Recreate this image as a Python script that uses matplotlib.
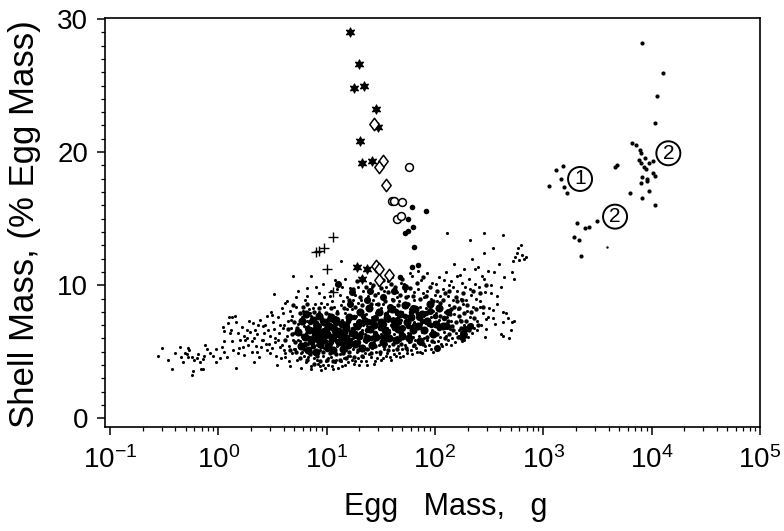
import numpy as np
import matplotlib
matplotlib.use("Agg")
import matplotlib.pyplot as plt
from matplotlib.path import Path
from matplotlib.ticker import FixedLocator, FixedFormatter, NullFormatter

# all egg masses are given as log10(g); shell mass in % of egg mass

# big asterisks (upper arm of the distribution)
ASTER = [(1.213, 29.0), (1.298, 26.6), (1.252, 24.8), (1.347, 25.0), (1.453, 23.2),
         (1.474, 21.9), (1.308, 20.8), (1.329, 19.2), (1.421, 19.3), (1.283, 11.4),
         (1.374, 11.25), (1.323, 10.45)]
DIAMOND = [(1.437, 22.1), (1.523, 19.35), (1.483, 18.9), (1.548, 17.5), (1.455, 11.45),
           (1.480, 11.2), (1.486, 10.4), (1.578, 10.8)]
OPEN_CIRC = [(1.762, 18.9), (1.600, 16.3), (1.622, 16.3), (1.695, 16.25), (1.653, 14.97),
             (1.690, 15.2)]
FILL_CIRC = [(1.786, 15.85), (1.913, 15.55), (1.752, 15.0), (1.799, 14.35), (1.753, 14.1),
             (1.723, 13.9), (1.806, 12.85), (1.846, 11.5), (1.784, 11.4), (1.677, 10.65)]
PLUS = [(0.899, 12.5), (0.925, 12.6), (0.975, 12.8), (1.062, 13.6), (1.006, 11.2),
        (1.055, 9.5)]

# large eggs (right hand side)
BIG_EGG = [(3.114, 18.66), (3.178, 18.96), (3.056, 17.48), (3.163, 17.98), (3.187, 17.36),
           (3.215, 16.95), (3.308, 14.65), (3.385, 14.27), (3.424, 14.4), (3.492, 14.82),
           (3.285, 13.62), (3.331, 13.4), (3.344, 12.22), (3.665, 18.9), (3.677, 19.05),
           (3.911, 28.17), (4.108, 25.97), (4.052, 24.24), (4.028, 22.19), (3.815, 20.66),
           (3.855, 20.51), (3.893, 20.16), (3.899, 19.91), (3.886, 19.41), (3.901, 19.16),
           (3.939, 19.53), (3.978, 19.16), (4.015, 19.31), (3.929, 18.9), (3.945, 18.71),
           (3.907, 18.15), (3.953, 17.98), (4.008, 18.41), (4.029, 18.23), (3.901, 17.7),
           (3.953, 17.85), (3.800, 16.95), (3.907, 16.55), (3.978, 17.05), (4.034, 16.0)]
BIG_EGG_SMALL = [(3.584, 12.87)]

GROUP_LABELS = ["1", "2", "2"]
GROUP_POS = [(3.339, 17.98), (3.662, 15.15), (4.154, 19.91)]

CLOUD_TAIL = [(-0.554, 4.68), (-0.517, 5.30), (-0.462, 4.38), (-0.425, 3.73), (-0.354, 5.33),
              (-0.345, 4.58), (-0.323, 4.25), (-0.292, 4.81), (-0.277, 4.58), (-0.268, 5.13),
              (-0.246, 4.63), (-0.237, 3.58), (-0.226, 4.38), (-0.185, 4.83), (-0.169, 4.25),
              (-0.160, 3.68), (-0.139, 3.68), (-0.139, 4.43), (-0.133, 4.68), (-0.108, 5.18),
              (-0.047, 4.68), (-0.022, 5.18), (0.015, 4.51), (0.031, 5.33), (0.052, 5.0),
              (0.076, 4.58), (0.100, 7.63), (0.122, 7.63), (0.153, 7.71), (0.046, 6.88),
              (0.052, 6.56), (0.086, 7.18), (0.107, 6.38), (0.122, 5.83), (0.160, 7.26),
              (0.163, 3.80), (0.184, 6.38), (0.138, 5.13), (0.193, 5.26), (0.215, 6.88),
              (0.230, 5.38), (0.239, 4.76), (0.261, 6.01), (0.261, 6.63), (0.291, 6.51),
              (0.307, 5.0), (0.323, 7.14), (0.332, 4.25), (0.353, 5.0), (0.369, 7.01),
              (0.384, 7.39), (0.393, 5.38), (0.415, 5.88), (0.430, 7.01), (0.445, 5.13),
              (0.477, 4.88), (0.492, 7.76), (0.507, 7.26), (0.516, 9.34), (0.523, 6.01),
              (0.538, 4.0), (0.553, 7.63), (0.569, 5.38), (0.584, 8.26), (0.615, 8.64),
              (0.599, 6.76), (0.615, 4.88), (0.27, 5.5), (0.31, 5.8), (0.35, 5.4),
              (0.40, 5.9), (0.44, 5.6), (0.48, 6.2), (0.52, 5.7), (0.56, 6.4),
              (0.58, 4.5), (0.46, 6.6), (0.36, 6.3), (0.20, 5.9), (-0.246, 3.25),
              (0.69, 10.7), (1.13, 11.8), (-0.31, 4.9), (-0.20, 4.5), (-0.08, 4.9),
              (0.24, 6.2), (0.33, 6.0), (0.42, 6.4), (0.50, 5.3), (0.55, 5.9),
              (0.05, 5.8), (0.12, 6.6), (0.18, 4.9), (0.25, 5.9), (0.28, 7.3), (0.34, 6.6),
              (0.38, 4.6), (0.41, 6.9), (0.45, 7.7), (0.47, 5.6), (0.51, 6.7), (0.53, 4.7),
              (0.57, 7.0), (0.59, 5.5), (0.60, 7.9), (0.49, 8.0), (-0.40, 4.9), (-0.28, 5.3),
              (-0.12, 5.5), (-0.02, 4.2)]
CLOUD_CORE = [
    (0.62, 4.6), (0.63, 6.2), (0.64, 7.3), (0.65, 5.4), (0.66, 8.1), (0.67, 6.8), (0.68, 4.9),
    (0.69, 5.9), (0.61, 7.0), (0.70, 6.4), (0.66, 3.9), (0.68, 7.7),
    (0.71, 5.2), (0.72, 6.6), (0.72, 8.4), (0.73, 4.4), (0.74, 7.1), (0.75, 5.8), (0.75, 6.3),
    (0.76, 3.8), (0.77, 5.0), (0.77, 7.6), (0.78, 6.0), (0.79, 6.9), (0.79, 4.7), (0.80, 8.9),
    (0.74, 9.6), (0.78, 5.5),
    (0.81, 6.4), (0.81, 4.2), (0.82, 7.3), (0.83, 5.6), (0.83, 6.9), (0.84, 4.9), (0.84, 8.2),
    (0.85, 6.1), (0.85, 5.3), (0.86, 7.7), (0.86, 3.9), (0.87, 6.6), (0.87, 5.0), (0.88, 7.0),
    (0.88, 4.5), (0.89, 5.9), (0.89, 8.6), (0.90, 6.3), (0.82, 9.2), (0.86, 10.7),
    (0.91, 5.5), (0.91, 7.2), (0.92, 4.1), (0.92, 6.5), (0.93, 6.0), (0.93, 8.0), (0.94, 5.1),
    (0.94, 6.9), (0.95, 3.6), (0.95, 6.2), (0.96, 5.7), (0.96, 7.5), (0.97, 4.7), (0.97, 6.7),
    (0.98, 5.3), (0.98, 8.4), (0.99, 6.1), (0.99, 4.3), (1.00, 7.0), (1.00, 5.8), (0.93, 9.4),
    (0.97, 10.1),
    (1.01, 6.4), (1.01, 4.0), (1.02, 5.2), (1.02, 7.8), (1.03, 6.0), (1.03, 6.9), (1.04, 4.6),
    (1.04, 5.6), (1.05, 7.3), (1.05, 8.8), (1.06, 6.3), (1.06, 3.7), (1.07, 5.0), (1.07, 6.7),
    (1.08, 5.9), (1.08, 7.6), (1.09, 4.4), (1.09, 6.5), (1.10, 5.4), (1.10, 8.1), (1.04, 9.6),
    (1.08, 10.4),
    (1.11, 6.1), (1.11, 7.1), (1.12, 4.8), (1.12, 5.7), (1.13, 6.6), (1.13, 8.5), (1.14, 3.9),
    (1.14, 7.4), (1.15, 5.3), (1.15, 6.2), (1.16, 6.9), (1.16, 4.5), (1.17, 5.9), (1.17, 7.9),
    (1.18, 5.1), (1.18, 6.4), (1.19, 7.2), (1.19, 9.1), (1.20, 4.2), (1.20, 6.0), (1.14, 9.9),
    (1.17, 10.5),
    (1.21, 5.6), (1.21, 7.5), (1.22, 6.3), (1.22, 4.7), (1.23, 8.2), (1.23, 6.8), (1.24, 5.2),
    (1.24, 6.0), (1.25, 7.1), (1.25, 4.1), (1.26, 5.8), (1.26, 9.3), (1.27, 6.5), (1.27, 7.7),
    (1.28, 5.0), (1.28, 6.2), (1.29, 8.7), (1.29, 4.5), (1.30, 6.9), (1.30, 5.5),
    (1.31, 6.0), (1.31, 7.3), (1.32, 4.3), (1.32, 8.0), (1.33, 5.4), (1.33, 6.6), (1.34, 7.0),
    (1.34, 9.6), (1.35, 4.9), (1.35, 6.3), (1.36, 5.7), (1.36, 7.8), (1.37, 6.9), (1.37, 4.0),
    (1.38, 5.2), (1.38, 8.4), (1.39, 6.1), (1.39, 7.4), (1.40, 5.6), (1.40, 10.2),
    (1.41, 6.7), (1.41, 4.6), (1.42, 7.6), (1.42, 5.3), (1.43, 6.2), (1.43, 8.9), (1.44, 5.8),
    (1.44, 7.1), (1.45, 4.3), (1.45, 6.5), (1.46, 7.9), (1.46, 5.0), (1.47, 6.0), (1.47, 9.4),
    (1.48, 6.9), (1.48, 5.5), (1.49, 7.4), (1.49, 4.8), (1.50, 8.3), (1.50, 6.3),
    (1.51, 5.9), (1.51, 7.0), (1.52, 4.5), (1.52, 8.6), (1.53, 6.4), (1.53, 5.2), (1.54, 7.7),
    (1.54, 6.1), (1.55, 9.9), (1.55, 5.6), (1.56, 6.8), (1.56, 4.9), (1.57, 7.3), (1.57, 8.1),
    (1.58, 5.4), (1.58, 6.6), (1.59, 7.0), (1.59, 4.4), (1.60, 6.0), (1.60, 9.0),
    (1.61, 7.5), (1.61, 5.1), (1.62, 6.3), (1.62, 8.4), (1.63, 5.7), (1.63, 6.9), (1.64, 4.7),
    (1.64, 7.8), (1.65, 6.1), (1.65, 9.5), (1.66, 5.4), (1.66, 7.1), (1.67, 6.6), (1.67, 8.8),
    (1.68, 4.6), (1.68, 5.9), (1.69, 7.4), (1.69, 6.2), (1.70, 8.0), (1.70, 5.2),
    (1.71, 6.8), (1.71, 10.1), (1.72, 5.5), (1.72, 7.3), (1.73, 6.0), (1.73, 8.6), (1.74, 4.9),
    (1.74, 7.0), (1.75, 6.4), (1.75, 9.2), (1.76, 5.7), (1.76, 7.7), (1.77, 6.3), (1.77, 8.2),
    (1.78, 5.1), (1.78, 6.9), (1.79, 7.5), (1.79, 10.7), (1.80, 6.1), (1.80, 5.4),
    (1.81, 7.2), (1.81, 8.9), (1.82, 5.9), (1.82, 6.6), (1.83, 8.0), (1.83, 5.0), (1.84, 7.5),
    (1.84, 9.7), (1.85, 6.2), (1.85, 6.9), (1.86, 5.6), (1.86, 8.4), (1.87, 7.1), (1.87, 10.4),
    (1.88, 6.5), (1.88, 4.9), (1.89, 7.8), (1.90, 6.0), (1.90, 9.1),
    (1.91, 7.4), (1.91, 5.4), (1.92, 8.3), (1.92, 6.7), (1.93, 9.6), (1.93, 5.9), (1.94, 7.0),
    (1.95, 6.3), (1.95, 8.7), (1.96, 5.2), (1.96, 7.6), (1.97, 10.2), (1.97, 6.6), (1.98, 8.1),
    (1.99, 5.7), (1.99, 7.2), (2.00, 9.3), (2.00, 6.4)]
# second pass over the cloud, in between the first one
CLOUD_EXTRA = [
    (0.605, 5.1), (0.635, 8.8), (0.655, 4.3), (0.675, 7.4), (0.695, 5.2), (0.715, 9.1),
    (0.735, 5.9), (0.755, 7.9), (0.765, 4.9), (0.785, 8.1), (0.805, 5.1), (0.815, 9.8),
    (0.825, 4.6), (0.845, 7.9), (0.855, 3.7), (0.875, 8.3), (0.895, 4.9), (0.905, 9.9),
    (0.915, 4.4), (0.935, 3.9), (0.945, 8.7), (0.965, 4.0), (0.975, 9.1), (0.985, 3.8),
    (1.005, 8.6), (1.015, 4.5), (1.035, 9.2), (1.045, 3.9), (1.065, 8.4), (1.075, 4.2),
    (1.095, 9.7), (1.105, 3.8), (1.125, 9.3), (1.135, 4.3), (1.155, 8.8), (1.165, 4.0),
    (1.185, 8.2), (1.195, 4.7), (1.215, 9.8), (1.235, 4.4), (1.245, 8.9), (1.265, 4.3),
    (1.285, 9.9), (1.295, 4.0), (1.315, 8.9), (1.335, 4.6), (1.345, 10.4), (1.365, 4.3),
    (1.385, 9.2), (1.395, 4.8), (1.415, 9.9), (1.435, 4.1), (1.455, 8.6), (1.465, 4.5),
    (1.485, 10.0), (1.505, 4.4), (1.525, 9.6), (1.545, 4.7), (1.565, 10.3), (1.585, 4.6),
    (1.605, 10.6), (1.625, 4.8), (1.645, 9.1), (1.665, 4.9), (1.685, 10.2), (1.705, 4.7),
    (1.725, 9.6), (1.745, 5.1), (1.765, 10.9), (1.785, 4.8), (1.805, 9.5), (1.825, 5.3),
    (1.845, 11.1), (1.865, 5.0), (1.885, 9.4), (1.905, 5.1), (1.925, 10.9), (1.945, 5.5),
    (1.965, 9.0), (1.985, 5.0), (2.005, 10.1), (2.025, 5.8), (2.045, 9.2), (2.065, 5.4),
    (2.085, 10.4), (2.105, 5.6), (2.125, 10.0), (2.145, 5.5), (2.165, 9.9), (2.185, 5.7),
    (2.205, 10.7), (2.225, 6.2), (2.245, 10.2), (2.265, 5.9), (2.285, 8.9), (2.305, 6.1),
    (2.325, 9.7), (2.345, 6.4), (2.365, 11.2), (2.385, 6.6), (2.405, 9.9), (2.425, 7.0),
    (2.455, 10.5), (2.485, 7.6), (2.515, 9.4), (2.545, 11.0), (2.575, 8.6), (2.605, 9.9),
    (2.625, 7.2)]
CLOUD_RIGHT = [
    (2.01, 7.9), (2.02, 5.3), (2.02, 8.8), (2.03, 6.9), (2.04, 10.6), (2.04, 7.4), (2.05, 6.1),
    (2.06, 8.4), (2.06, 5.6), (2.07, 9.7), (2.08, 7.0), (2.08, 6.5), (2.09, 8.0), (2.10, 11.0),
    (2.10, 6.2),
    (2.11, 7.6), (2.12, 9.2), (2.12, 5.9), (2.13, 8.5), (2.14, 6.7), (2.15, 10.3), (2.15, 7.3),
    (2.16, 6.0), (2.17, 8.9), (2.18, 11.6), (2.18, 7.8), (2.19, 6.4), (2.20, 9.6),
    (2.21, 8.2), (2.22, 6.6), (2.23, 10.8), (2.23, 7.4), (2.24, 9.0), (2.25, 5.8), (2.26, 8.6),
    (2.27, 11.2), (2.27, 7.0), (2.28, 9.9), (2.29, 6.3), (2.30, 8.1),
    (2.31, 10.5), (2.32, 7.6), (2.33, 9.3), (2.34, 12.0), (2.35, 8.4), (2.36, 6.8),
    (2.37, 10.1), (2.38, 9.0), (2.39, 7.3), (2.40, 11.4),
    (2.42, 8.8), (2.43, 10.7), (2.44, 7.9), (2.45, 12.4), (2.46, 9.5), (2.47, 6.7),
    (2.49, 11.1), (2.50, 8.3), (2.42, 8.34), (2.47, 7.44), (2.46, 6.08),
    (2.52, 10.0), (2.54, 12.8), (2.55, 7.1), (2.57, 9.2), (2.59, 11.6), (2.61, 6.3),
    (2.63, 8.0), (2.64, 10.6), (2.54, 8.14), (2.54, 7.56),
    (2.67, 7.5), (2.68, 6.0), (2.70, 6.6), (2.71, 11.0), (2.72, 11.8), (2.73, 10.5),
    (2.74, 12.1), (2.76, 12.4), (2.77, 12.8), (2.78, 11.9), (2.79, 13.0), (2.80, 12.3),
    (2.82, 12.0), (2.84, 12.1), (2.73, 7.3), (2.66, 7.9), (2.63, 6.18), (2.71, 7.26),
    (2.11, 13.9), (2.45, 13.9), (2.63, 13.8), (2.32, 13.4)]
# medium dots filling the upper, lower and right fringe of the dense part
CLOUD_MID = [
    (1.21, 8.9), (1.24, 9.7), (1.26, 8.4), (1.28, 10.3), (1.31, 9.1), (1.33, 8.5), (1.36, 9.9),
    (1.38, 9.0), (1.41, 8.6), (1.43, 10.0), (1.45, 9.3), (1.47, 8.6), (1.50, 9.8), (1.52, 10.4),
    (1.54, 8.8), (1.57, 9.5), (1.59, 10.1), (1.61, 8.9), (1.63, 9.9), (1.66, 8.5), (1.68, 9.3),
    (1.70, 10.5), (1.73, 9.1), (1.75, 8.6), (1.77, 9.8), (1.80, 9.2), (1.83, 10.2), (1.86, 9.0),
    (1.89, 10.6), (1.92, 9.2), (1.95, 9.9), (1.98, 8.8), (2.02, 9.6), (2.05, 8.7), (2.09, 9.4),
    (0.72, 5.0), (0.75, 4.5), (0.79, 5.2), (0.82, 4.4), (0.85, 4.8), (0.88, 4.1), (0.91, 4.7),
    (0.94, 4.3), (0.97, 5.0), (1.00, 4.4), (1.03, 4.9), (1.06, 4.3), (1.09, 4.8), (1.12, 4.4),
    (1.15, 4.9), (1.18, 4.5), (1.21, 5.0), (1.25, 4.6), (1.29, 5.1), (1.33, 4.7), (1.37, 5.2),
    (1.41, 4.9), (1.45, 5.4), (1.49, 5.0), (1.53, 5.4), (1.57, 5.1), (1.61, 5.6), (1.65, 5.2),
    (1.69, 5.6), (1.73, 5.3), (1.77, 5.8), (1.81, 5.5), (1.85, 5.9), (1.89, 5.6), (1.93, 6.1),
    (1.97, 5.8),
    (2.10, 7.1), (2.13, 6.3), (2.14, 7.8), (2.16, 6.9), (2.18, 8.4), (2.19, 7.2), (2.21, 6.1),
    (2.22, 7.7), (2.24, 6.8), (2.27, 7.9), (2.29, 7.3), (2.31, 6.6), (2.33, 8.0), (2.36, 7.5),
    (2.20, 8.8), (2.15, 8.2), (2.25, 8.9),
    (2.02, 6.3), (2.05, 7.7), (2.07, 8.9), (2.09, 6.0), (2.12, 7.3), (2.13, 9.6), (2.17, 6.6),
    (2.19, 9.1), (2.22, 8.3), (2.24, 7.3), (2.26, 9.4), (2.28, 6.2), (2.30, 8.5), (2.33, 7.0),
    (2.35, 9.6), (2.38, 8.2), (2.40, 7.0), (2.42, 9.4), (2.44, 8.4), (2.47, 10.0),
    (0.62, 5.9), (0.64, 6.7), (0.66, 5.1), (0.68, 6.3), (0.70, 7.2), (0.71, 5.7), (0.73, 6.8),
    (0.75, 7.9), (0.69, 8.5), (0.78, 8.4), (0.82, 8.6), (0.88, 8.0), (0.93, 8.3), (0.99, 7.9),
    (1.04, 8.3), (1.10, 7.9), (1.16, 8.3)]
# darkest part of the cloud
CLOUD_DENSE = [
    (0.78, 6.2), (0.80, 5.6), (0.82, 6.8), (0.84, 6.0), (0.85, 7.2), (0.87, 5.4), (0.88, 6.4),
    (0.90, 7.0), (0.91, 5.9), (0.92, 6.7), (0.94, 6.3), (0.95, 5.4), (0.96, 7.3), (0.98, 6.0),
    (0.99, 6.6), (1.00, 5.2), (1.01, 7.4), (1.03, 6.2), (1.04, 5.7), (1.05, 6.8), (1.07, 6.1),
    (1.08, 7.1), (1.10, 5.8), (1.11, 6.6), (1.13, 6.0), (1.14, 7.0), (1.16, 5.6), (1.17, 6.5),
    (1.19, 6.1), (1.20, 7.3), (1.22, 5.9), (1.24, 6.7), (1.25, 7.6), (1.27, 6.2), (1.29, 5.7),
    (1.30, 7.0), (1.32, 6.4), (1.34, 7.7), (1.35, 5.9), (1.37, 6.6), (1.39, 7.2), (1.41, 6.0),
    (1.43, 7.4), (1.45, 6.4), (1.47, 7.9), (1.49, 6.8), (1.51, 6.1), (1.53, 7.1), (1.55, 7.8),
    (1.57, 6.5), (1.60, 7.4), (1.62, 6.8), (1.64, 8.1), (1.67, 7.2), (1.69, 6.4), (1.72, 7.7),
    (1.75, 6.9), (1.78, 8.0), (1.81, 7.0), (1.84, 7.8), (1.88, 7.3), (1.92, 7.9), (1.96, 7.0),
    (2.00, 7.7), (2.04, 6.8), (2.08, 7.5)]
CLOUD_DARK = [
    (0.74, 6.5), (0.76, 5.4), (0.77, 7.3), (0.80, 6.1), (0.81, 7.8), (0.83, 5.1), (0.84, 6.6),
    (0.86, 5.8), (0.87, 7.4), (0.89, 6.2), (0.90, 5.0), (0.91, 6.9), (0.93, 7.7), (0.94, 5.6),
    (0.95, 6.5), (0.97, 5.9), (0.98, 7.2), (1.00, 6.3), (1.01, 5.4), (1.02, 6.9), (1.04, 7.6),
    (1.05, 6.0), (1.06, 5.1), (1.08, 6.6), (1.09, 7.4), (1.11, 5.7), (1.12, 6.3), (1.14, 7.1),
    (1.15, 5.2), (1.17, 6.0), (1.18, 6.8), (1.20, 5.5), (1.21, 7.6), (1.23, 6.4),
    (1.26, 5.6), (1.28, 6.9), (1.30, 6.2), (1.31, 8.0), (1.33, 5.3), (1.35, 7.3), (1.37, 6.0),
    (1.39, 8.3), (1.40, 6.7), (1.42, 5.5), (1.44, 7.0), (1.46, 6.1), (1.48, 8.0), (1.50, 7.2),
    (1.52, 5.7), (1.54, 6.6), (1.56, 7.5), (1.58, 6.0), (1.60, 8.2), (1.62, 7.0), (1.64, 5.9),
    (1.66, 6.7), (1.68, 7.8), (1.70, 6.2), (1.72, 8.5), (1.74, 7.2), (1.76, 6.0), (1.78, 7.6),
    (1.80, 6.6), (1.82, 8.2), (1.84, 6.9), (1.86, 5.8), (1.88, 7.8), (1.90, 6.6), (1.93, 7.3),
    (1.95, 8.6), (1.98, 6.3), (2.01, 7.1), (2.04, 8.3), (2.07, 6.9)]
# heavy blobs inside the cloud (overlapping symbols)
CLOUD_BLOB = [
    (1.101, 10.1), (1.40, 9.6), (1.23, 9.5), (1.215, 8.6), (1.37, 8.9), (1.52, 9.1),
    (1.585, 8.4), (0.94, 6.1), (2.12, 8.0), (2.11, 6.9), (2.26, 6.4), (2.32, 6.9), (2.28, 6.7),
    (2.25, 6.1), (1.95, 8.1), (2.02, 5.3), (1.45, 7.5), (1.30, 7.2), (1.65, 7.4), (1.80, 8.3),
    (1.00, 6.8), (0.88, 6.6), (1.55, 6.2), (1.70, 6.8), (1.85, 7.6), (1.10, 6.3), (1.18, 7.0),
    (1.62, 9.6), (1.72, 9.9)]

XTICK_EXP = [-1, 0, 1, 2, 3, 4, 5]
YTICKS = [0, 10, 20, 30]

plt.rcParams["font.family"] = ["Liberation Sans", "DejaVu Sans"]
plt.rcParams["mathtext.fontset"] = "custom"
plt.rcParams["mathtext.rm"] = "Liberation Sans"
plt.rcParams["mathtext.it"] = "Liberation Sans"
plt.rcParams["mathtext.default"] = "regular"


def xy(pts):
    a = np.array(pts, float)
    return 10.0 ** a[:, 0], a[:, 1]


W, H = 784, 531
fig = plt.figure(figsize=(W / 100, H / 100), dpi=100)
ax = fig.add_axes([105 / W, 1 - 427 / H, (760 - 105) / W, (427 - 18) / H])
ax.set_xscale("log")
ax.set_xlim(10 ** -1.046, 1e5)
ax.set_ylim(-0.65, 30.07)

k = "black"
for pts in (CLOUD_TAIL, CLOUD_CORE, CLOUD_EXTRA, CLOUD_RIGHT):
    ax.scatter(*xy(pts), s=5, c=k, lw=0, zorder=2)
ax.scatter(*xy(CLOUD_MID), s=10, c=k, lw=0, zorder=2)
ax.scatter(*xy(CLOUD_DENSE), s=16, c=k, lw=0, zorder=2)
ax.scatter(*xy(CLOUD_DARK), s=34, c=k, lw=0, zorder=2)
ax.scatter(*xy(CLOUD_BLOB), s=26, c=k, lw=0, zorder=2)

star6 = (6, 1, 0)
ax.scatter(*xy(ASTER), s=45, marker=star6, c=k, lw=0.8, edgecolors=k, zorder=3)
diamond = Path([(0, 1), (0.75, 0), (0, -1), (-0.75, 0), (0, 1)],
               [Path.MOVETO, Path.LINETO, Path.LINETO, Path.LINETO, Path.CLOSEPOLY])
ax.scatter(*xy(DIAMOND), s=80, marker=diamond, facecolors="white", edgecolors=k,
           lw=1.1, zorder=3)
ax.scatter(*xy(OPEN_CIRC), s=32, marker="o", facecolors="white", edgecolors=k,
           lw=1.1, zorder=3)
ax.scatter(*xy(FILL_CIRC), s=16, marker="o", c=k, lw=0, zorder=3)
ax.scatter(*xy(PLUS), s=50, marker="+", c=k, lw=1.0, zorder=3)
ax.scatter(*xy(BIG_EGG), s=9, marker="o", c=k, lw=0, zorder=3)
ax.scatter(*xy(BIG_EGG_SMALL), s=3, marker="o", c=k, lw=0, zorder=3)

for lab, (lx, ly) in zip(GROUP_LABELS, GROUP_POS):
    ax.text(10 ** lx, ly, lab, ha="center", va="center", fontsize=15, zorder=4,
            bbox=dict(boxstyle="circle,pad=0.12", fc="white", ec=k, lw=1.4))

ax.xaxis.set_major_locator(FixedLocator([10.0 ** e for e in XTICK_EXP]))
ax.xaxis.set_major_formatter(FixedFormatter([r"$10^{%d}$" % e for e in XTICK_EXP]))
minor = [m * 10.0 ** e for e in XTICK_EXP[:-1] for m in range(2, 10)]
ax.xaxis.set_minor_locator(FixedLocator(minor))
ax.xaxis.set_minor_formatter(NullFormatter())
ax.set_yticks(YTICKS)
ax.set_yticks(np.arange(0, 31, 1), minor=True)

ax.tick_params(axis="both", which="major", direction="out", length=6, width=1.1,
               labelsize=20, color=k)
ax.tick_params(axis="both", which="minor", direction="out", length=3, width=0.9)
ax.tick_params(axis="x", which="major", pad=8)
ax.tick_params(axis="y", which="major", pad=6)
for sp in ax.spines.values():
    sp.set_linewidth(1.2)

fig.text(446 / W, 1 - 515 / H, "Egg   Mass,   g", ha="center", va="baseline", fontsize=22)
fig.text(25 / W, 1 - 224 / H, "Shell Mass, (% Egg Mass)", ha="center", va="center",
         rotation=90, fontsize=25)

fig.savefig("out.png", dpi=100)
